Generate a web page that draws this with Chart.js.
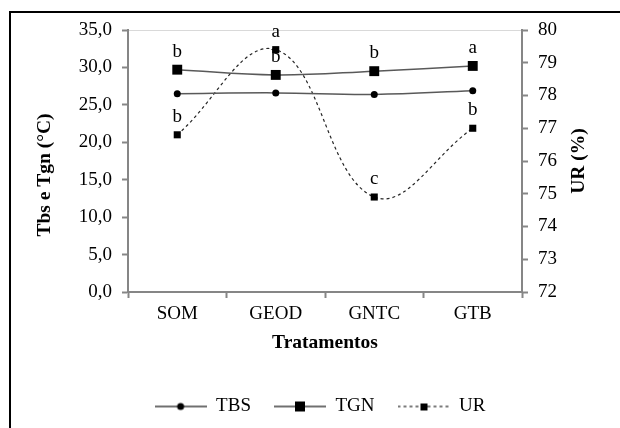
<!DOCTYPE html>
<html>
<head>
<meta charset="utf-8">
<script src="https://cdn.jsdelivr.net/npm/chart.js@4.4.1/dist/chart.umd.min.js"></script>
<style>
  body { margin: 0; background: #fff; }
  #wrap { position: relative; width: 620px; height: 428px; overflow: hidden; }
  #moldura { position: absolute; left: 9px; top: 11px; width: 700px; height: 500px;
             border-top: 2px solid #000; border-left: 2px solid #000; pointer-events: none; }
</style>
</head>
<body>
<div id="wrap">
  <canvas id="grafico" width="620" height="428"></canvas>
  <div id="moldura"></div>
</div>
<script>
// Dados
const tratamentos = ['SOM', 'GEOD', 'GNTC', 'GTB'];
const tbs = [26.5, 26.6, 26.4, 26.9];
const tgn = [29.7, 29.0, 29.5, 30.2];
const ur = [76.8, 79.4, 74.9, 77.0];
const letrasTgn = ['b', 'b', 'b', 'a'];
const letrasUr = ['b', 'a', 'c', 'b'];

const CINZA_EIXO = '#868686';
const FONTE = "'Liberation Serif', 'Times New Roman', serif";

Chart.defaults.font.family = FONTE;
Chart.defaults.font.size = 19;
Chart.defaults.color = '#000';

// ícones da legenda: linha com marcador
function iconeLegenda(tracejado, marcador) {
    const c = document.createElement('canvas');
    c.width = 52; c.height = 12;
    const g = c.getContext('2d');
    g.strokeStyle = tracejado ? '#262626' : '#404040';
    g.lineWidth = tracejado ? 1.2 : 1.5;
    if (tracejado) g.setLineDash([3, 3]);
    g.beginPath(); g.moveTo(0, 6); g.lineTo(52, 6); g.stroke();
    g.fillStyle = '#000';
    if (marcador === 'circulo') {
        g.beginPath(); g.arc(26, 6, 3.5, 0, Math.PI * 2); g.fill();
    } else if (marcador === 'quadrado') {
        g.fillRect(21, 1, 10, 10);
    } else {
        g.fillRect(23, 3, 7, 7);
    }
    return c;
}

// letras acima dos pontos
const letrasPlugin = {
    id: 'letras',
    afterDatasetsDraw(chart) {
        const ctx = chart.ctx;
        ctx.save();
        ctx.font = '19px ' + FONTE;
        ctx.fillStyle = '#000';
        ctx.textAlign = 'center';
        ctx.textBaseline = 'middle';
        chart.data.datasets.forEach((ds, i) => {
            if (!ds.letras) return;
            chart.getDatasetMeta(i).data.forEach((pt, j) => {
                ctx.fillText(ds.letras[j], pt.x, pt.y - 18);
            });
        });
        ctx.restore();
    }
};

// títulos verticais dos eixos (ambos de baixo para cima)
const titulosPlugin = {
    id: 'titulos',
    afterDraw(chart) {
        const ctx = chart.ctx;
        const a = chart.chartArea;
        const desenha = (texto, x, y) => {
            ctx.save();
            ctx.font = 'bold 19.5px ' + FONTE;
            ctx.fillStyle = '#000';
            ctx.textAlign = 'center';
            ctx.textBaseline = 'middle';
            ctx.translate(x, y);
            ctx.rotate(-Math.PI / 2);
            ctx.fillText(texto, 0, 0);
            ctx.restore();
        };
        desenha('Tbs e Tgn (°C)', 45, 175);
        desenha('UR (%)', a.right + 57, 161);
    }
};

const icones = [iconeLegenda(false, 'circulo'), iconeLegenda(false, 'quadrado'), iconeLegenda(true, 'pequeno')];

new Chart(document.getElementById('grafico').getContext('2d'), {
    type: 'line',
    data: {
        labels: tratamentos,
        datasets: [{
            label: 'TBS',
            data: tbs,
            yAxisID: 'y',
            borderColor: '#595959',
            borderWidth: 1.5,
            pointStyle: 'circle',
            pointRadius: 3.5,
            pointBackgroundColor: '#000',
            pointBorderWidth: 0,
            tension: 0.4
        }, {
            label: 'TGN',
            data: tgn,
            yAxisID: 'y',
            letras: letrasTgn,
            borderColor: '#595959',
            borderWidth: 1.5,
            pointStyle: 'rect',
            pointRadius: 7,
            pointBackgroundColor: '#000',
            pointBorderWidth: 0,
            tension: 0.4
        }, {
            label: 'UR',
            data: ur,
            yAxisID: 'y2',
            letras: letrasUr,
            borderColor: '#262626',
            borderWidth: 1.2,
            borderDash: [3, 3],
            pointStyle: 'rect',
            pointRadius: 5,
            pointBackgroundColor: '#000',
            pointBorderWidth: 0,
            tension: 0.4
        }]
    },
    options: {
        responsive: false,
        animation: false,
        layout: { padding: { left: 20, right: 0, top: 30, bottom: 2 } },
        plugins: {
            tooltip: { enabled: false },
            legend: {
                position: 'bottom',
                labels: {
                    usePointStyle: true,
                    pointStyleWidth: 52,
                    padding: 23,
                    color: '#000',
                    font: { size: 19 },
                    generateLabels: chart => chart.data.datasets.map((ds, i) => ({
                        text: ds.label,
                        pointStyle: icones[i],
                        datasetIndex: i,
                        fillStyle: '#000',
                        strokeStyle: '#000',
                        lineWidth: 0,
                        hidden: false
                    }))
                }
            }
        },
        scales: {
            x: {
                offset: true,
                grid: { offset: true, drawOnChartArea: false, tickColor: CINZA_EIXO, tickLength: 6, tickWidth: 2 },
                border: { color: CINZA_EIXO, width: 2 },
                ticks: { padding: 5, color: '#000' },
                title: { display: true, text: 'Tratamentos', font: { weight: 'bold', size: 19.5 }, color: '#000', padding: { top: 0, bottom: 19 } },
                afterFit: s => { s.height = 82; }
            },
            y: {
                position: 'left',
                min: 0, max: 35,
                ticks: { stepSize: 5, padding: 10, color: '#000', callback: v => v.toFixed(1).replace('.', ',') },
                grid: {
                    color: c => c.tick && c.tick.value === 35 ? '#d9d9d9' : 'rgba(0,0,0,0)',
                    tickColor: CINZA_EIXO, tickLength: 6, tickWidth: 2, lineWidth: 1
                },
                border: { color: CINZA_EIXO, width: 2 },
                afterFit: s => { s.width = 108; }
            },
            y2: {
                position: 'right',
                min: 72, max: 80,
                ticks: { stepSize: 1, padding: 10, color: '#000' },
                grid: { drawOnChartArea: false, tickColor: CINZA_EIXO, tickLength: 6, tickWidth: 2 },
                border: { color: CINZA_EIXO, width: 2 },
                afterFit: s => { s.width = 98; }
            }
        }
    },
    plugins: [letrasPlugin, titulosPlugin]
});
</script>
</body>
</html>
